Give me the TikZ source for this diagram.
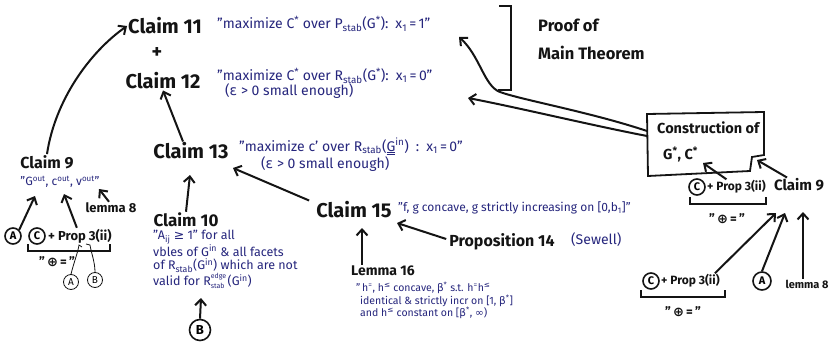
\documentclass[tikz,border=0pt]{standalone}
\usepackage{fontspec}
\setmainfont{Fira Sans}
\newfontfamily\symf{DejaVu Sans}
\usetikzlibrary{arrows.meta}
\definecolor{ink}{RGB}{20,20,20}
\definecolor{pen}{RGB}{38,38,125}
\newcommand\hsup[1]{\textsuperscript{#1}}
\newcommand\hsub[1]{\textsubscript{#1}}
\tikzset{
  lbl/.style={font=\fontsize{20}{22}\selectfont\bfseries, text=ink, inner sep=1pt},
  sublbl/.style={font=\fontsize{13}{15}\selectfont\bfseries, text=ink, inner sep=1pt},
  quote/.style={font=\fontsize{14}{15}\selectfont, text=pen, inner sep=1pt, align=left},
  arr/.style={draw=ink, line width=2pt, -{Straight Barb[length=6pt,width=11pt]}},
  circ/.style={draw=ink, circle, line width=1.6pt, inner sep=0pt, minimum size=16pt, font=\fontsize{11}{11}\selectfont\bfseries},
  thincirc/.style={draw=ink, circle, line width=0.8pt, inner sep=0pt, minimum size=15pt, font=\fontsize{10}{10}\selectfont},
  bracepath/.style={draw=ink, line width=2pt},
}
\begin{document}
\begin{tikzpicture}[x=1pt,y=-1pt]
\useasboundingbox (0,0) rectangle (830,345);
\fill[white] (0,0) rectangle (830,345);

% ---- top claims
\node[lbl] (c11) at (165,26) {Claim 11};
\node[lbl] (plus) at (157,53) {+};
\node[lbl] (c12) at (163,81) {Claim 12};
\node[quote,anchor=west] (q11) at (216,24) {"maximize C\hsup{*} over P\hsub{stab}(G\hsup{*}):\enspace x\hsub{1}\,=\,1"};
\node[quote,anchor=north west] (q12) at (216,67) {"maximize C\hsup{*} over R\hsub{stab}(G\hsup{*}):\enspace x\hsub{1}\,=\,0"\\\hspace*{8pt}({\symf ε} > 0 small enough)};

% ---- proof of main theorem
\node[lbl,font=\fontsize{16.5}{28}\selectfont\bfseries,anchor=north west,align=left] (proof) at (537,18) {Proof of\\Main Theorem};
\draw[bracepath] (499,6) -- (511,6) -- (511,90) -- (498,90);

% ---- claim 13
\node[lbl] (c13) at (191,151) {Claim 13};
\node[quote,anchor=north west] (q13) at (238,137) {"maximize c' over R\hsub{stab}(\underline{\underline{G}}\hsup{in})\enspace:\enspace x\hsub{1}\,=\,0"\\\hspace*{22pt}({\symf ε} > 0 small enough)};

% ---- left claim 9
\node[lbl,font=\fontsize{16}{18}\selectfont\bfseries] (c9L) at (47,162) {Claim 9};
\node[quote,font=\fontsize{12}{13}\selectfont] (q9L) at (60,182) {"G\hsup{out}, c\hsup{out}, v\hsup{out}"};
\node[sublbl] (lem8L) at (111,208) {lemma 8};
\node[circ] (aL) at (13,236) {A};
\node[circ] (cL) at (37,236) {C};
\node[sublbl,anchor=west] (pL) at (47,236) {+ Prop 3(ii)};
\draw[bracepath] (28,244) |- (110,251) -- (110,244);
\node[sublbl] (oL) at (57,262) {"\,{\symf ⊕}\,=\,"};
\node[thincirc] (sA) at (71,282) {A};
\node[thincirc] (sB) at (95,280) {B};
\draw[ink,line width=0.8pt] (sA.north) .. controls (74,262) and (78,252) .. (79,245) -- (82,247);
\draw[ink,line width=0.8pt] (sB.north) .. controls (95,262) and (91,252) .. (90,245) -- (86,244);
\coordinate (h9a) at (35,196);
\coordinate (h9b) at (64,194);
\coordinate (h9c) at (99,189);
\draw[arr] (aL.north east) -- (h9a);
\draw[arr] ([xshift=-3pt]pL.north) -- (h9b);
\draw[arr] ([xshift=-2pt]lem8L.north) -- (h9c);
\draw[arr] (c9L.north) .. controls (55,100) and (90,52) .. (c11.west);

% ---- claim 10
\node[lbl,font=\fontsize{17}{19}\selectfont\bfseries] (c10) at (186,220) {Claim 10};
\node[quote,font=\fontsize{12.5}{13.5}\selectfont,anchor=north west] (q10) at (152,229) {"A\hsub{ij} {\symf ≥} 1" for all\\vbles of G\hsup{in} \& all facets\\of R\hsub{stab}(G\hsup{in}) which are not\\valid for R\rlap{\raisebox{1.05ex}{\fontsize{7}{7}\selectfont edge}}\raisebox{-0.45ex}{\fontsize{7}{7}\selectfont stab}\kern0.25em(G\hsup{in})};
\node[circ,minimum size=21pt,font=\fontsize{13}{13}\selectfont\bfseries] (bB) at (200,330) {B};
\coordinate (h10) at (201,298);
\draw[arr] (bB.north) -- (h10);
\coordinate (h13a) at (190,175);
\draw[arr] (c10.north) -- (h13a);
\draw[arr] ([xshift=-8pt]c13.north) -- (c12.south);

% ---- claim 15, prop 14, lemma 16
\node[lbl] (c15) at (354,210) {Claim 15};
\node[quote,font=\fontsize{12}{13}\selectfont,anchor=west] (q15) at (397,208) {"f, g concave, g strictly increasing on [0,b\hsub{1}]"};
\coordinate (h13b) at (233,168);
\draw[arr] ([xshift=-6pt]c15.north west) -- (h13b);
\node[lbl,font=\fontsize{16}{18}\selectfont\bfseries] (p14) at (502,242) {Proposition 14};
\node[quote,anchor=west] (sew) at (570,240) {(Sewell)};
\coordinate (h15) at (397,223);
\draw[arr] ([xshift=-2pt,yshift=3pt]p14.west) -- (h15);
\node[lbl,font=\fontsize{14}{16}\selectfont\bfseries] (l16) at (383,271) {Lemma 16};
\coordinate (h15b) at (362,228);
\draw[arr] ([xshift=-21pt]l16.north) -- (h15b);
\node[quote,font=\fontsize{10.5}{10.5}\selectfont,anchor=north west] (q16) at (355,281) {"\,h\hsup{=}, h\hsup{{\symf ≤}} concave, {\symf β}\hsup{*} s.t. h\hsup{=}h\hsup{{\symf ≤}}\\\hspace*{4pt}identical \& strictly incr on [1, {\symf β}\hsup{*}]\\\hspace*{4pt}and h\hsup{{\symf ≤}} constant on [{\symf β}\hsup{*}, {\symf ∞})};

% ---- construction box
\node[lbl,font=\fontsize{14.5}{26}\selectfont\bfseries,align=left,anchor=north west] (constr) at (656,121) {Construction of\\\hspace*{6pt}G\hsup{*}, C\hsup{*}};
\draw[ink,line width=1.8pt] (647,114) -- (764,112) -- (764,155) -- (752,157) -- (750,171) -- (648,176) -- cycle;
\coordinate (cw1) at (647,131);
\coordinate (cw2) at (647,136);
\coordinate (h11) at (459,37);
\coordinate (h12) at (468,98);
\draw[arr] (cw1) .. controls (590,112) and (522,100) .. (500,92) .. controls (484,86) and (480,56) .. (h11);
\draw[arr] (cw2) .. controls (590,125) and (520,108) .. (h12);

% ---- right claim 9 and groups
\node[lbl,font=\fontsize{15}{17}\selectfont\bfseries] (c9R) at (799,185) {Claim 9};
\node[circ] (cR1) at (697,187) {C};
\node[sublbl,font=\fontsize{12}{14}\selectfont\bfseries,anchor=west] (pR1) at (706,187) {+ Prop 3(ii)};
\draw[bracepath] (690,197) |- (766,204) -- (766,197);
\node[sublbl] (oR1) at (727,219) {"\,{\symf ⊕}\,=\,"};
\coordinate (hbox1) at (703,163);
\coordinate (hbox2) at (757,160);
\draw[arr] ([xshift=-10pt]pR1.north) -- (hbox1);
\draw[arr] ([xshift=-12pt]c9R.north) -- (hbox2);

\node[circ] (cR2) at (651,281) {C};
\node[sublbl,font=\fontsize{12}{14}\selectfont\bfseries,anchor=west] (pR2) at (660,281) {+ Prop 3(ii)};
\draw[bracepath] (641,290) |- (725,297) -- (725,290);
\node[sublbl] (oR2) at (683,312) {"\,{\symf ⊕}\,=\,"};
\node[circ,minimum size=18pt] (aR) at (762,281) {A};
\node[sublbl,font=\fontsize{11}{13}\selectfont\bfseries] (lem8R) at (807,284) {lemma 8};
\coordinate (h9r1) at (776,213);
\coordinate (h9r2) at (785,213);
\coordinate (h9r3) at (803,212);
\draw[arr] ([xshift=-6pt]pR2.north east) -- (h9r1);
\draw[arr] (aR.north) -- (h9r2);
\draw[arr] ([xshift=-4pt]lem8R.north) -- (h9r3);
\end{tikzpicture}
\end{document}
